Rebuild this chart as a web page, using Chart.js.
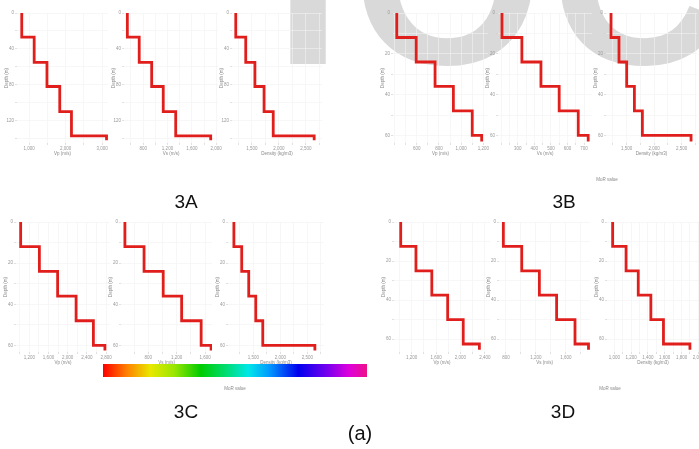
<!DOCTYPE html>
<html>
<head>
<meta charset="utf-8">
<script src="https://cdn.jsdelivr.net/npm/chart.js@4.4.0/dist/chart.umd.min.js"></script>
<style>
body { margin: 0; width: 699px; height: 449px; overflow: hidden; background: #fff; position: relative; }
canvas { position: absolute; }
svg { position: absolute; left: 0; top: 0; }
</style>
</head>
<body>
<svg width="699" height="449" style="z-index:0">
  <text x="274 352 550" y="64" font-family="Liberation Sans, Arial" font-weight="bold" font-size="245" fill="#d9d9d9">IOC</text>
</svg>
<div id="plots" style="position:absolute;left:0;top:0;width:699px;height:449px;z-index:1"></div>
<svg width="699" height="449" style="z-index:2">
  <defs>
    <linearGradient id="mor" x1="0" x2="1" y1="0" y2="0">
      <stop offset="0" stop-color="#ff0000"/>
      <stop offset="0.09" stop-color="#ff8000"/>
      <stop offset="0.18" stop-color="#e8e800"/>
      <stop offset="0.27" stop-color="#99e600"/>
      <stop offset="0.37" stop-color="#00cc00"/>
      <stop offset="0.47" stop-color="#00dd77"/>
      <stop offset="0.55" stop-color="#00e8e8"/>
      <stop offset="0.63" stop-color="#0099ff"/>
      <stop offset="0.74" stop-color="#0000ee"/>
      <stop offset="0.85" stop-color="#7700ee"/>
      <stop offset="0.93" stop-color="#dd00dd"/>
      <stop offset="1" stop-color="#ee1188"/>
    </linearGradient>
  </defs>
  <rect x="103" y="364" width="264" height="13" fill="url(#mor)"/>
  <g font-family="Liberation Sans, Arial" font-size="4.5" fill="#888" text-anchor="middle">
    <text x="607" y="181">MoR value</text>
    <text x="235" y="390">MoR value</text>
    <text x="610" y="390">MoR value</text>
  </g>
  <g font-family="Liberation Sans, Arial" font-size="19" fill="#111" text-anchor="middle">
    <text x="186" y="208">3A</text>
    <text x="564" y="208">3B</text>
    <text x="186" y="418">3C</text>
    <text x="563" y="418">3D</text>
    <text x="360" y="440" font-size="20">(a)</text>
  </g>
</svg>
<script>
// layer boundaries (depth, m) for each profile group
var depthA = [0, 27, 55, 82, 110, 137, 142];
var depthB = [0, 12, 24, 36, 48, 60, 63];
var depthC = [0, 12, 24, 36, 48, 60, 62.5];
var depthD = [0, 12.5, 25, 37.5, 50, 62.5, 65.5];

// layer values
var vpA = [800, 1140, 1490, 1840, 2160, 3120];
var vsA = [540, 735, 940, 1130, 1335, 1910];
var rhoA = [1200, 1385, 1555, 1725, 1895, 2655];
var vpB = [420, 595, 765, 930, 1100, 1185];
var vsB = [205, 325, 440, 550, 665, 725];
var rhoB = [1215, 1360, 1500, 1640, 1785, 2670];
var vpC = [1020, 1410, 1790, 2175, 2535, 2775];
var vsC = [470, 740, 1010, 1270, 1545, 1685];
var rhoC = [1140, 1285, 1415, 1545, 1675, 2640];
var vpD = [1020, 1270, 1530, 1790, 2045, 2310];
var vsD = [765, 1010, 1245, 1475, 1720, 1900];
var rhoD = [980, 1140, 1285, 1435, 1585, 1900];

// tick labels
var depthTicksA = [0, 40, 80, 120];
var depthTicks = [0, 20, 40, 60];
var ticksVpA = [1000, 2000, 3000];
var ticksVsA = [800, 1200, 1600, 2000];
var ticksRhoA = [1500, 2000, 2500];
var ticksVpB = [600, 800, 1000, 1200];
var ticksVsB = [300, 400, 500, 600, 700];
var ticksRhoB = [1500, 2000, 2500];
var ticksVpC = [1200, 1600, 2000, 2400, 2800];
var ticksVsC = [800, 1200, 1600];
var ticksRhoC = [1500, 2000, 2500];
var ticksVpD = [1200, 1600, 2000, 2400];
var ticksVsD = [800, 1200, 1600];
var ticksRhoD = [1000, 1200, 1400, 1600, 1800, 2000];

var titleVp = "Vp (m/s)", titleVs = "Vs (m/s)", titleRho = "Density (kg/m3)";

// panel placement: plot area [left, top, right, bottom] and axis ranges
var panels = [
  { v: vpA,  d: depthA, xt: ticksVpA,  yt: depthTicksA, t: titleVp,  box: [17, 13, 108, 143],  xr: [670, 3160],  ymax: 145 },
  { v: vsA,  d: depthA, xt: ticksVsA,  yt: depthTicksA, t: titleVs,  box: [124, 13, 218, 143], xr: [485, 2030],  ymax: 145 },
  { v: rhoA, d: depthA, xt: ticksRhoA, yt: depthTicksA, t: titleRho, box: [232, 13, 322, 143], xr: [1130, 2800], ymax: 145 },
  { v: vpB,  d: depthB, xt: ticksVpB,  yt: depthTicks,  t: titleVp,  box: [393, 13, 488, 143], xr: [386, 1242],  ymax: 63.7 },
  { v: vsB,  d: depthB, xt: ticksVsB,  yt: depthTicks,  t: titleVs,  box: [498, 13, 592, 143], xr: [181, 748],   ymax: 63.7 },
  { v: rhoB, d: depthB, xt: ticksRhoB, yt: depthTicks,  t: titleRho, box: [606, 13, 697, 143], xr: [1124, 2778], ymax: 63.7 },
  { v: vpC,  d: depthC, xt: ticksVpC,  yt: depthTicks,  t: titleVp,  box: [16, 222, 110, 352], xr: [923, 2881],  ymax: 63.2 },
  { v: vsC,  d: depthC, xt: ticksVsC,  yt: depthTicks,  t: titleVs,  box: [121, 222, 212, 352], xr: [415, 1698], ymax: 63.2 },
  { v: rhoC, d: depthC, xt: ticksRhoC, yt: depthTicks,  t: titleRho, box: [228, 222, 324, 352], xr: [1031, 2809], ymax: 63.2 },
  { v: vpD,  d: depthD, xt: ticksVpD,  yt: depthTicks,  t: titleVp,  box: [394, 222, 490, 352], xr: [910, 2484], ymax: 66.6 },
  { v: vsD,  d: depthD, xt: ticksVsD,  yt: depthTicks,  t: titleVs,  box: [499, 222, 590, 352], xr: [707, 1920], ymax: 66.6 },
  { v: rhoD, d: depthD, xt: ticksRhoD, yt: depthTicks,  t: titleRho, box: [607, 222, 699, 352], xr: [913, 2008], ymax: 66.6 }
];

var YW = 13, XH = 13, PT = 5, PR = 8;

// majors plus half-step minor ticks inside the range
function withMinor(majors, min, max) {
  var step = majors[1] - majors[0], out = [];
  for (var v = majors[0] - step; v <= max + 0.001; v += step / 2) {
    if (v >= min - 0.001) out.push(v);
  }
  return out;
}

function makePlot(p) {
  var w = p.box[2] - p.box[0] + YW + PR;
  var h = p.box[3] - p.box[1] + PT + XH;
  var c = document.createElement("canvas");
  c.width = w; c.height = h;
  c.style.left = (p.box[0] - YW) + "px";
  c.style.top = (p.box[1] - PT) + "px";
  document.getElementById("plots").appendChild(c);

  var pts = [];
  for (var i = 0; i < p.v.length; i++) {
    pts.push({ x: p.v[i], y: p.d[i] });
    pts.push({ x: p.v[i], y: p.d[i + 1] });
  }
  var xAll = withMinor(p.xt, p.xr[0], p.xr[1]);
  var yAll = withMinor(p.yt, 0, p.ymax);
  var small = { size: 4.5, family: "Liberation Sans, Arial" };

  new Chart(c, {
    type: "line",
    data: { datasets: [{ data: pts, borderColor: "#e01f1c", borderWidth: 2.8, pointRadius: 0, fill: false, tension: 0, borderJoinStyle: "miter" }] },
    options: {
      responsive: false,
      animation: false,
      events: [],
      layout: { padding: { top: PT, right: PR, left: 0, bottom: 0 } },
      plugins: { legend: { display: false }, tooltip: { enabled: false } },
      scales: {
        x: {
          type: "linear", min: p.xr[0], max: p.xr[1],
          afterBuildTicks: function (s) { s.ticks = xAll.map(function (v) { return { value: v }; }); },
          afterFit: function (s) { s.height = XH; },
          ticks: {
            font: small, color: "#999", maxRotation: 0, autoSkip: false, padding: 1,
            callback: function (v) { return p.xt.indexOf(v) >= 0 ? v.toLocaleString("en-US") : ""; }
          },
          grid: { color: "#f1f1f1", tickColor: "#cccccc", tickLength: 2, lineWidth: 0.6 },
          border: { display: false },
          title: { display: true, text: p.t, font: small, color: "#888", padding: 0 }
        },
        y: {
          type: "linear", reverse: true, min: 0, max: p.ymax,
          afterBuildTicks: function (s) { s.ticks = yAll.map(function (v) { return { value: v }; }); },
          afterFit: function (s) { s.width = YW; },
          ticks: {
            font: small, color: "#999", autoSkip: false, padding: 1,
            callback: function (v) { return p.yt.indexOf(v) >= 0 ? String(v) : ""; }
          },
          grid: { color: "#f1f1f1", tickColor: "#cccccc", tickLength: 2, lineWidth: 0.6 },
          border: { display: false },
          title: { display: true, text: "Depth (m)", font: small, color: "#888", padding: 0 }
        }
      }
    }
  });
}

panels.forEach(makePlot);
</script>
</body>
</html>
